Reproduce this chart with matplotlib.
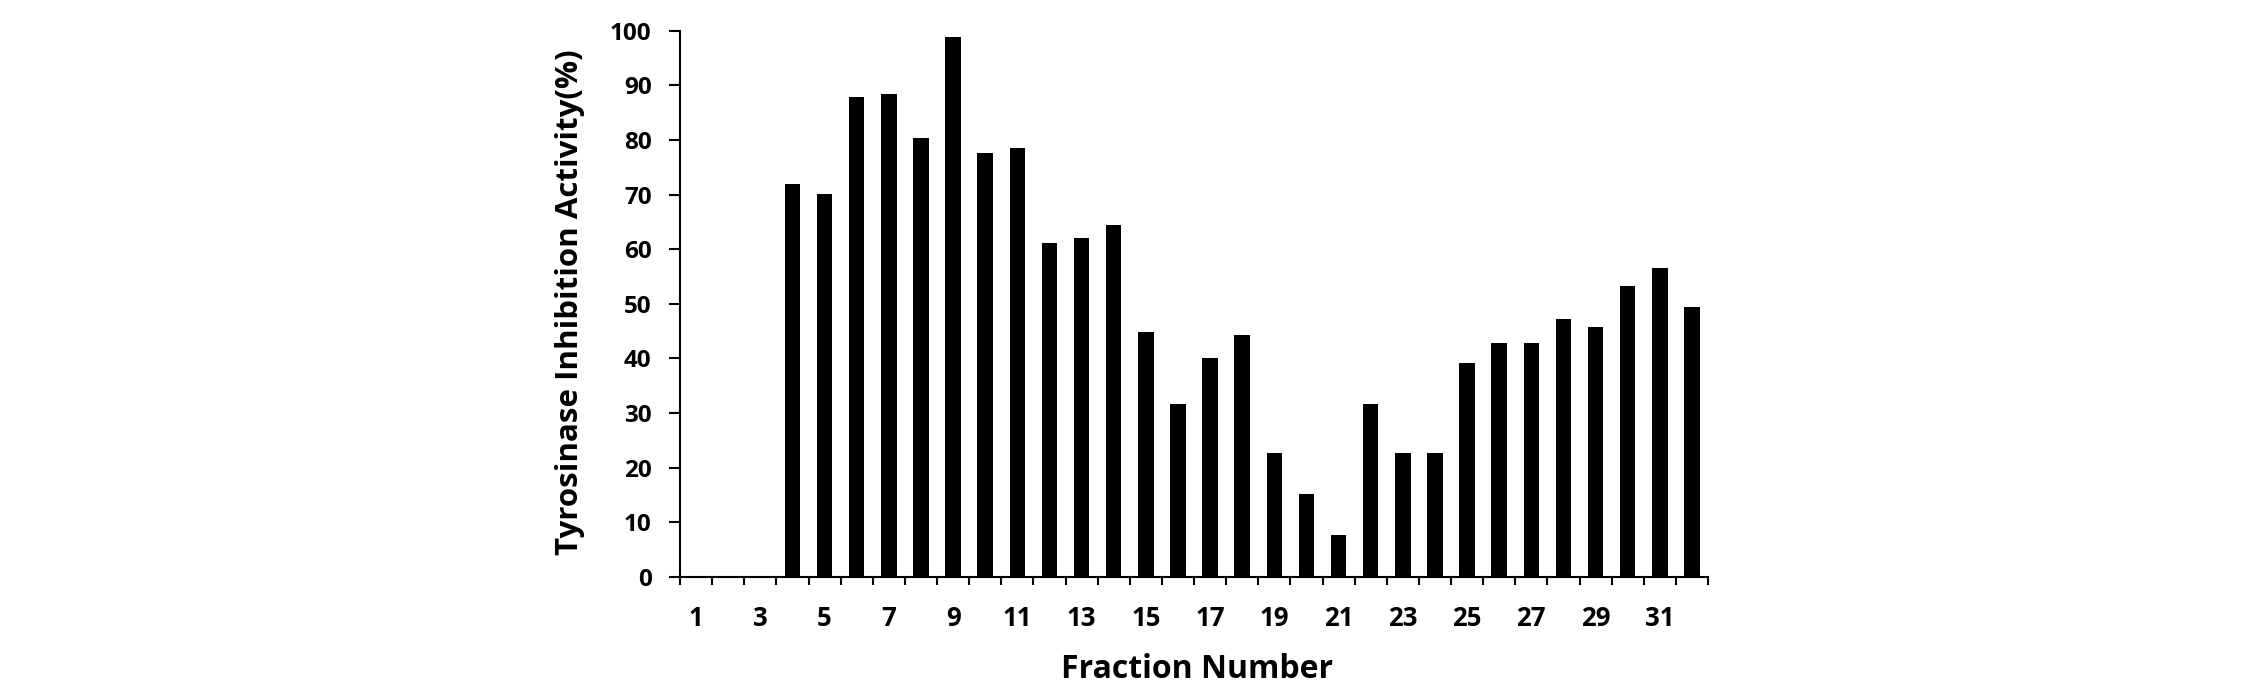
import matplotlib
matplotlib.use("Agg")
import matplotlib.pyplot as plt
import numpy as np

fractions = list(range(1, 33))
inhibition = [0, 0, 0, 71.9, 70.1, 87.9, 88.4, 80.4, 98.8, 77.6, 78.5, 61.1, 62.0, 64.4,
              44.8, 31.6, 40.1, 44.3, 22.7, 15.2, 7.6, 31.6, 22.7, 22.7, 39.2, 42.9,
              42.9, 47.2, 45.7, 53.2, 56.6, 49.5]
xtick_labels = [str(i) for i in range(1, 33, 2)]
yticks = list(range(0, 101, 10))

plt.rcParams['font.family'] = ['Open Sans', 'DejaVu Sans']
plt.rcParams['font.weight'] = 'bold'

fig = plt.figure(figsize=(22.44, 7.0), dpi=100)
ax = fig.add_axes([680/2244, 1-577/700, (1708-680)/2244, (577-30.7)/700])

ax.bar(fractions, inhibition, width=0.48, color='black')

ax.set_xlim(0.5, 32.5)
ax.set_ylim(0, 100)
ax.set_yticks(yticks)
ax.set_yticklabels([str(v) for v in yticks], fontsize=17.5, fontweight='bold')
ax.set_xticks(list(range(1, 33, 2)))
ax.set_xticklabels(xtick_labels, fontsize=18.5, fontweight='bold')
ax.tick_params(axis='x', which='major', length=0, pad=20)
ax.set_xticks(np.arange(0.5, 33, 1.0), minor=True)
ax.tick_params(axis='x', which='minor', length=6, width=1.5, direction='out')
ax.tick_params(axis='y', which='major', length=8, width=1.5, direction='out', pad=12.5)

for s in ['top', 'right']:
    ax.spines[s].set_visible(False)
for s in ['left', 'bottom']:
    ax.spines[s].set_linewidth(1.5)

ax.set_xlabel('Fraction Number', fontsize=23, fontweight='bold', va='center')
ax.xaxis.set_label_coords(0.503, -0.170)
ax.set_ylabel('Tyrosinase Inhibition Activity(%)', fontsize=22.5, fontweight='bold', va='center')
ax.yaxis.set_label_coords(-0.107, 0.503)

fig.savefig('out.png', dpi=100, facecolor='white')
